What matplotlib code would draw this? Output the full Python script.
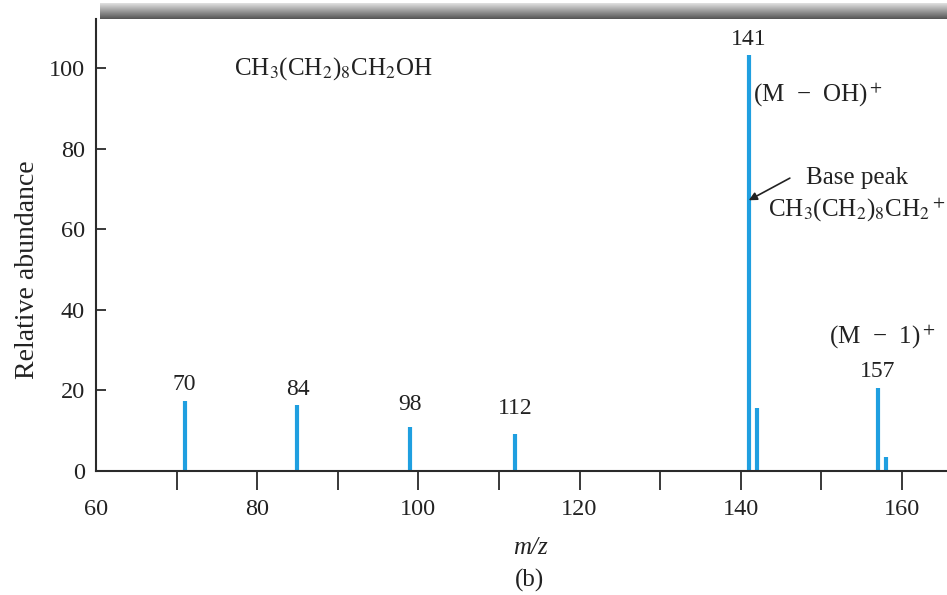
import matplotlib
matplotlib.use("Agg")
import matplotlib.pyplot as plt
import numpy as np

# -------------------------------------------------------------
# Data: mass spectrum of 1-decanol
# -------------------------------------------------------------
mz = [71, 85, 99, 112, 141, 142, 157, 158]
abundance = [17.4, 16.4, 10.9, 9.2, 103.2, 15.6, 20.6, 3.5]

peak_labels = ["70", "84", "98", "112", "141", "157"]
peak_label_mz = [71, 85, 99, 112, 141, 157]

x_ticks = [60, 80, 100, 120, 140, 160]
x_minor = [70, 90, 110, 130, 150]
y_ticks = [0, 20, 40, 60, 80, 100]

plt.rcParams["font.family"] = ["Liberation Serif", "DejaVu Serif"]
plt.rcParams["mathtext.fontset"] = "stix"

W, H = 947, 595
fig = plt.figure(figsize=(W / 100, H / 100), dpi=100)

# gray gradient bar at top
bar = fig.add_axes([100 / W, 1 - 19 / H, 847 / W, 16 / H])
grad = np.linspace(0.88, 0.33, 60).reshape(-1, 1)
bar.imshow(grad, cmap="gray", vmin=0, vmax=1, aspect="auto")
bar.axis("off")

ax = fig.add_axes([96 / W, 1 - 471 / H, 851 / W, (471 - 19) / H])

blue = "#1f9fe0"
ax.vlines(mz, 0, abundance, color=blue, linewidth=3)

ax.set_xlim(60, 165.6)
ax.set_ylim(0, 112.2)

for s in ["top", "right"]:
    ax.spines[s].set_visible(False)
for s in ["left", "bottom"]:
    ax.spines[s].set_color("#2a2a2a")
    ax.spines[s].set_linewidth(1.5)

ax.set_xticks(x_ticks)
ax.set_xticks(x_minor, minor=True)
ax.set_yticks(y_ticks)
ax.tick_params(axis="x", which="both", direction="out", length=13.5, width=1.3,
               color="#2a2a2a", pad=7, labelsize=17.5, labelcolor="#222222")
ax.tick_params(axis="y", direction="in", length=7, width=1.3,
               color="#2a2a2a", pad=8, labelsize=17.5, labelcolor="#222222")
ax.xaxis.get_major_ticks()[0].tick1line.set_visible(False)

# peak labels
label_offsets = [4.5, 3.5, 8.5, 10.5, 3.5, 4.5]
for lab, x, off in zip(peak_labels, peak_label_mz, label_offsets):
    y = abundance[mz.index(x)]
    ax.annotate(lab, xy=(x, y), xytext=(0, off), textcoords="offset points",
                ha="center", va="bottom", fontsize=17, color="#222222")

# annotations
txt = dict(fontsize=18, color="#222222")
ax.text(89.5, 100.0, r"CH$_3$(CH$_2$)$_8$CH$_2$OH", ha="center", va="center", **txt)
ax.text(141.5, 93.3, "(M  −  OH)$^+$", ha="left", va="center", **txt)
ax.text(154.4, 72.7, "Base peak", ha="center", va="center", **txt)
ax.text(154.4, 64.8, r"CH$_3$(CH$_2$)$_8$CH$_2$$^+$", ha="center", va="center", **txt)
ax.text(157.6, 33.2, "(M  −  1)$^+$", ha="center", va="center", **txt)
ax.annotate("", xy=(141.0, 67.2), xytext=(146.1, 72.7),
            arrowprops=dict(arrowstyle="-|>", color="#222222", lw=1.2,
                            mutation_scale=12, shrinkA=0, shrinkB=0))

fig.text(28 / W, 1 - 270 / H, "Relative abundance", rotation=90,
         ha="center", va="center", fontsize=20, color="#222222")
fig.text(530 / W, 1 - 548 / H, "m/z", style="italic",
         ha="center", va="center", fontsize=18, color="#222222")
fig.text(530 / W, 1 - 580 / H, "(b)",
         ha="center", va="center", fontsize=18, color="#222222")

fig.savefig("out.png", dpi=100)
